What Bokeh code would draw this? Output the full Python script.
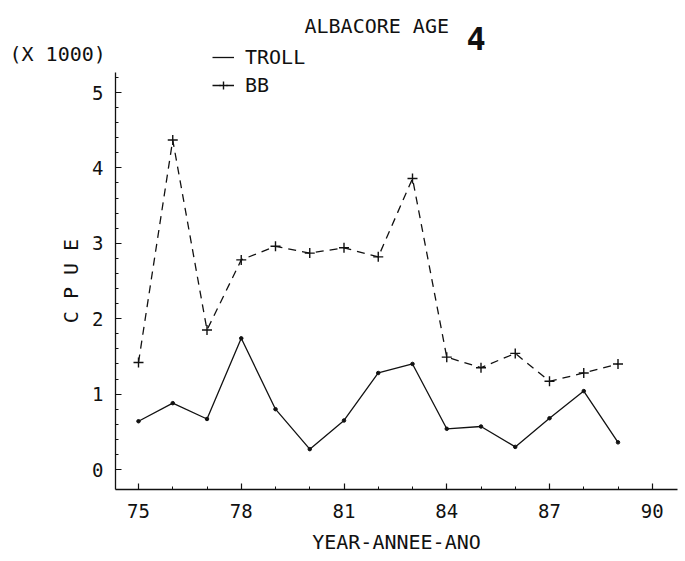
from bokeh.plotting import figure
from bokeh.models import FixedTicker, Range1d, Label, Legend, LegendItem
from bokeh.embed import file_html
from bokeh.resources import INLINE

# ---- data ----
years = [75, 76, 77, 78, 79, 80, 81, 82, 83, 84, 85, 86, 87, 88, 89]
troll = [0.64, 0.88, 0.67, 1.74, 0.80, 0.27, 0.65, 1.28, 1.40, 0.54, 0.57, 0.30, 0.68, 1.04, 0.36]
bb = [1.42, 4.37, 1.85, 2.78, 2.96, 2.87, 2.94, 2.82, 3.86, 1.49, 1.35, 1.54, 1.17, 1.28, 1.40]

x_ticks = [75, 78, 81, 84, 87, 90]
x_tick_labels = ["75", "78", "81", "84", "87", "90"]
y_ticks = [0, 1, 2, 3, 4, 5]
y_tick_labels = ["0", "1", "2", "3", "4", "5"]

title_text = "ALBACORE AGE"
title_mark = "4"
scale_text = "(X 1000)"
x_label = "YEAR-ANNEE-ANO"
y_label = "C P U E"
series_names = ["TROLL", "BB"]

FONT = "DejaVu Sans Mono"
INK = "#111111"

W, H = 685, 561
PX_PER_YEAR = 34.25
PX_PER_UNIT = 75.4
X0_PX, Y0_PX = 138, 469  # canvas position of (75, 0)

x_start = 75 - X0_PX / PX_PER_YEAR
x_end = 75 + (W - X0_PX) / PX_PER_YEAR
y_end = Y0_PX / PX_PER_UNIT
y_start = -(H - Y0_PX) / PX_PER_UNIT

axis_x_lo, axis_x_hi = 74.33, 90.74
axis_y_lo, axis_y_hi = -0.265, 5.265

p = figure(
    width=W, height=H,
    x_range=Range1d(x_start, x_end), y_range=Range1d(y_start, y_end),
    output_backend="svg", toolbar_location=None,
    min_border=0, min_border_left=0, min_border_right=0,
    min_border_top=0, min_border_bottom=0,
)
p.outline_line_color = None
p.grid.visible = False
p.background_fill_color = "white"
p.border_fill_color = "white"

for ax in (p.xaxis[0], p.yaxis[0]):
    ax.axis_line_color = INK
    ax.axis_line_width = 1.3
    ax.major_tick_line_color = INK
    ax.minor_tick_line_color = INK
    ax.major_tick_line_width = 1.2
    ax.minor_tick_line_width = 1.0
    ax.major_tick_in = 6
    ax.major_tick_out = 0
    ax.minor_tick_in = 3
    ax.minor_tick_out = 0
    ax.major_label_text_font = FONT
    ax.major_label_text_font_size = "19px"
    ax.major_label_text_color = INK
    ax.axis_label_text_font = FONT
    ax.axis_label_text_font_size = "20px"
    ax.axis_label_text_font_style = "normal"
    ax.axis_label_text_color = INK

p.xaxis.fixed_location = axis_y_lo
p.xaxis.bounds = (axis_x_lo, axis_x_hi)
p.xaxis.ticker = FixedTicker(ticks=x_ticks, minor_ticks=list(range(75, 91)))
p.xaxis.major_label_overrides = dict(zip(x_ticks, x_tick_labels))
p.xaxis.major_label_standoff = 15
p.xaxis.axis_label = x_label
p.xaxis.axis_label_standoff = 8

y_minor = [round(0.2 * i, 1) for i in range(0, 27)]
p.yaxis.fixed_location = axis_x_lo
p.yaxis.bounds = (axis_y_lo, axis_y_hi)
p.yaxis.ticker = FixedTicker(ticks=y_ticks, minor_ticks=y_minor)
p.yaxis.major_label_overrides = dict(zip(y_ticks, y_tick_labels))
p.yaxis.major_label_standoff = 12
p.yaxis.axis_label = y_label
p.yaxis.axis_label_standoff = 6

# series
troll_line = p.line(years, troll, line_color=INK, line_width=1.3)
troll_pts = p.scatter(years, troll, marker="circle", size=3.5, color=INK)
bb_line = p.line(years, bb, line_color=INK, line_width=1.3, line_dash="8 6")
bb_pts = p.scatter(years, bb, marker="cross", size=10, line_color=INK, line_width=1.4)

legend = Legend(
    items=[LegendItem(label=series_names[0], renderers=[troll_line]),
           LegendItem(label=series_names[1], renderers=[bb_line, bb_pts])],
    location=(212, H - 97), padding=0, margin=0, spacing=4,
    glyph_width=22, glyph_height=20, label_height=20, label_standoff=11,
    label_text_font=FONT, label_text_font_size="20px", label_text_color=INK,
    background_fill_alpha=0, border_line_alpha=0,
)
p.add_layout(legend)

# text annotations, placed through the plot's data scale
def px_to_x(px):
    return 75 + (px - X0_PX) / PX_PER_YEAR

def py_to_y(py):
    return (Y0_PX - py) / PX_PER_UNIT

p.add_layout(Label(x=px_to_x(304), y=py_to_y(25), text=title_text,
                   text_font=FONT, text_font_size="20px", text_color=INK,
                   text_baseline="alphabetic"))
p.add_layout(Label(x=px_to_x(466), y=py_to_y(38), text=title_mark,
                   text_font=FONT, text_font_size="32px", text_font_style="bold",
                   text_color=INK, text_baseline="alphabetic"))
p.add_layout(Label(x=px_to_x(9), y=py_to_y(53), text=scale_text,
                   text_font=FONT, text_font_size="20px", text_color=INK,
                   text_baseline="alphabetic"))

open("out.html", "w").write(file_html(p, INLINE))
